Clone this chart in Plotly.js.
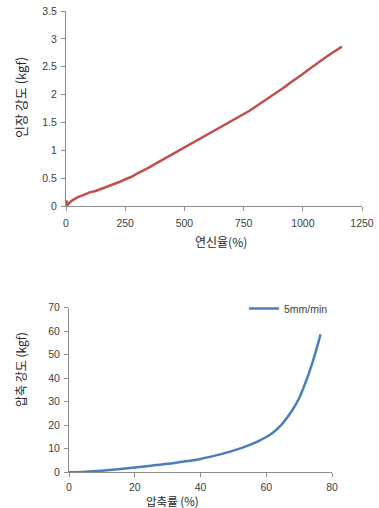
<!DOCTYPE html>
<html><head><meta charset="utf-8">
<script src="https://cdn.plot.ly/plotly-3.0.1.min.js"></script>
<style>body{margin:0;padding:0;background:#fff}#chart{width:379px;height:508px}</style>
</head><body><div id="chart"></div>
<script>
// Top chart: tensile strength vs elongation
const elongation = [0, 2, 5, 10, 20, 30, 50, 75, 100, 125, 150, 175, 200, 225, 250, 275, 300, 325, 350, 375, 400, 425, 450, 475, 500, 525, 550, 575, 600, 625, 650, 675, 700, 725, 750, 775, 800, 825, 850, 875, 900, 925, 950, 975, 1000, 1025, 1050, 1075, 1100, 1125, 1150, 1165];
const tensile = [0.02, 0.1, 0.01, 0.04, 0.08, 0.11, 0.16, 0.2, 0.245, 0.27, 0.31, 0.34, 0.39, 0.43, 0.48, 0.52, 0.58, 0.63, 0.69, 0.75, 0.81, 0.86, 0.92, 0.98, 1.05, 1.1, 1.16, 1.22, 1.28, 1.34, 1.4, 1.46, 1.52, 1.58, 1.64, 1.71, 1.78, 1.85, 1.92, 1.99, 2.07, 2.14, 2.22, 2.29, 2.37, 2.45, 2.53, 2.6, 2.68, 2.75, 2.82, 2.86];
// Bottom chart: compressive strength vs compression ratio
const compression = [0, 5, 10, 15, 20, 25, 30, 35, 40, 45, 50, 55, 57.5, 60, 62, 64, 66, 68, 70, 71, 72, 73, 74, 75, 76, 76.5];
const compStrength = [0, 0.25, 0.7, 1.3, 2.0, 2.8, 3.6, 4.6, 5.7, 7.3, 9.2, 11.7, 13.2, 15, 16.8, 19.3, 22.6, 26.6, 31.5, 34.8, 38.4, 42.2, 46.4, 51, 56, 58.7];
const seriesName = '5mm/min';
const topXTicks = [0, 250, 500, 750, 1000, 1250];
const topYTicks = [0, 0.5, 1, 1.5, 2, 2.5, 3, 3.5];
const botXTicks = [0, 20, 40, 60, 80];
const botYTicks = [0, 10, 20, 30, 40, 50, 60, 70];

const W = 379, H = 508;
const tickFont = {family: 'Liberation Sans, Arial, sans-serif', size: 10.5, color: '#404040'};
const axisCommon = {showgrid: false, zeroline: false, showline: true, linecolor: '#8c8c8c', linewidth: 1,
  ticks: 'outside', ticklen: 4, tickcolor: '#8c8c8c', tickfont: tickFont, fixedrange: true};
const yCommon = Object.assign({}, axisCommon, {ticklabelstandoff: 2});

const traces = [
  {x: elongation, y: tensile, type: 'scatter', mode: 'lines', xaxis: 'x', yaxis: 'y',
   line: {color: '#C0504D', width: 2.5}, showlegend: false},
  {x: compression, y: compStrength, type: 'scatter', mode: 'lines', xaxis: 'x2', yaxis: 'y2',
   line: {color: '#4A7EBB', width: 2.5, shape: 'spline'}, name: seriesName, showlegend: true}
];

const layout = {
  width: W, height: H, margin: {l: 0, r: 0, t: 0, b: 0},
  paper_bgcolor: '#fff', plot_bgcolor: '#fff',
  xaxis: Object.assign({}, axisCommon, {ticklabelstandoff: 3, domain: [66/W, 362/W], range: [0, 1250], tickvals: topXTicks, anchor: 'y'}),
  yaxis: Object.assign({}, yCommon, {domain: [1-206/H, 1-11/H], range: [0, 3.5], tickvals: topYTicks, anchor: 'x'}),
  xaxis2: Object.assign({}, axisCommon, {ticklabelstandoff: 1, domain: [69/W, 332/W], range: [0, 80], tickvals: botXTicks, anchor: 'y2'}),
  yaxis2: Object.assign({}, yCommon, {domain: [1-472.3/H, 1-307.7/H], range: [0, 70], tickvals: botYTicks, anchor: 'x2'}),
  showlegend: true,
  legend: {x: 244/W, y: 1-294/H, xanchor: 'left', yanchor: 'top', bgcolor: 'rgba(0,0,0,0)',
    font: {family: 'Liberation Sans, Arial, sans-serif', size: 10.5, color: '#404040'}, itemwidth: 30},
  annotations: [
    {text: '인장 강도 (kgf)', xref: 'paper', yref: 'paper', x: 20/W, y: 1-98/H, showarrow: false, textangle: -90,
     xanchor: 'center', yanchor: 'middle', font: {family: 'Noto Sans CJK KR', size: 13, color: '#262626'}},
    {text: '연신율(%)', xref: 'paper', yref: 'paper', x: 221/W, y: 1-241/H, showarrow: false,
     xanchor: 'center', yanchor: 'middle', font: {family: 'Noto Sans CJK KR', size: 12, color: '#262626'}},
    {text: '압축 강도 (kgf)', xref: 'paper', yref: 'paper', x: 20/W, y: 1-370/H, showarrow: false, textangle: -90,
     xanchor: 'center', yanchor: 'middle', font: {family: 'Noto Sans CJK KR', size: 12, color: '#262626'}},
    {text: '압축률 (%)', xref: 'paper', yref: 'paper', x: 172/W, y: 1-500.5/H, showarrow: false,
     xanchor: 'center', yanchor: 'middle', font: {family: 'Noto Sans CJK KR', size: 11.5, color: '#262626'}}
  ]
};
Plotly.newPlot('chart', traces, layout, {displayModeBar: false, staticPlot: true});
</script></body></html>
